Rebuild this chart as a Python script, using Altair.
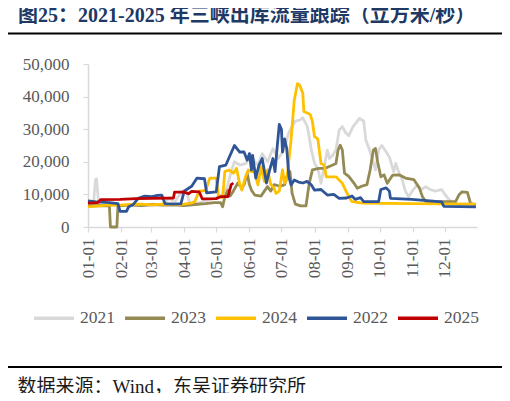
import json
import altair as alt
import pandas as pd

# ---------------- data ----------------
years = ["2021", "2023", "2024", "2022", "2025"]
colors = ["#D9D9D9", "#948A54", "#FFC000", "#2F5597", "#C00000"]

month_days = [0, 31, 59, 90, 120, 151, 181, 212, 243, 273, 304, 334]
month_labels = ["01-01", "02-01", "03-01", "04-01", "05-01", "06-01",
                "07-01", "08-01", "09-01", "10-01", "11-01", "12-01"]
y_ticks = [0, 10000, 20000, 30000, 40000, 50000]

# (day of year, outflow m3/s)
flow_2021 = [(0, 6500), (5, 6600), (7, 14500), (8, 14800), (10, 6800), (12, 6600),
             (20, 6800), (30, 6500), (40, 6700), (50, 6600), (60, 6800), (70, 7000),
             (77, 9000), (80, 7200), (88, 11000), (92, 11200), (95, 7200), (105, 7500),
             (112, 8200), (120, 9000), (126, 10000), (130, 12000), (134, 17000),
             (137, 20000), (142, 19000), (148, 19500), (152, 22500), (156, 20000),
             (159, 19000), (163, 22500), (168, 20000), (173, 24000), (178, 21000),
             (183, 23500), (188, 29000), (194, 32500), (198, 32800), (201, 33500),
             (205, 31000), (207, 27700), (209, 23600), (212, 19500), (215, 18000),
             (218, 13400), (221, 18500), (224, 23600), (226, 21000), (229, 22000),
             (232, 23600), (235, 29700), (238, 30800), (241, 29000), (244, 28000),
             (248, 30800), (251, 32000), (254, 33300), (258, 32500), (260, 26700),
             (263, 24000), (266, 21000), (269, 17500), (272, 23600), (275, 25000),
             (279, 23000), (282, 21500), (286, 17000), (288, 19500), (290, 17500),
             (294, 14500), (297, 11000), (300, 9300), (304, 11300), (308, 12800),
             (312, 11500), (316, 12400), (320, 11500), (325, 11000), (331, 11500),
             (334, 10000), (338, 8300), (345, 7000), (355, 7000), (363, 7000)]

flow_2022 = [(0, 8000), (8, 7700), (20, 7500), (28, 7200), (30, 4800), (36, 4800),
             (38, 6200), (42, 6800), (47, 8800), (53, 9500), (60, 9300), (65, 9700),
             (69, 9800), (72, 7200), (80, 7000), (87, 7200), (90, 11000), (97, 12500),
             (102, 15000), (109, 14800), (111, 10500), (120, 10800), (123, 18500),
             (129, 19000), (133, 22000), (137, 25000), (142, 23000), (146, 23000),
             (149, 20500), (151, 22500), (153, 17500), (154, 22000), (157, 15000),
             (160, 19000), (163, 21000), (167, 13500), (170, 17500), (173, 21000),
             (175, 17000), (177, 24500), (179, 31500), (181, 30000), (182, 23000),
             (184, 27000), (186, 24000), (188, 15400), (190, 12900), (193, 14400),
             (197, 13800), (201, 13500), (205, 14000), (209, 12900), (212, 11300),
             (218, 11500), (224, 9800), (230, 10000), (235, 8800), (242, 8900),
             (247, 9500), (250, 8500), (255, 9000), (258, 7800), (272, 7800),
             (274, 11500), (279, 12000), (282, 11000), (283, 8800), (303, 8500),
             (320, 8000), (331, 7700), (333, 6300), (363, 6200)]

flow_2023 = [(0, 6500), (10, 6600), (20, 6500), (21, 0), (27, 0), (28, 6500),
             (40, 6800), (50, 6600), (60, 6900), (70, 6700), (80, 6800), (90, 6600),
             (100, 6900), (110, 7200), (118, 7500), (124, 7500), (126, 6200),
             (128, 9300), (131, 11300), (133, 9500), (136, 11000), (140, 13400),
             (144, 12000), (146, 12900), (149, 16500), (151, 13000), (153, 11300),
             (156, 9800), (162, 9500), (165, 11000), (168, 12400), (171, 11000),
             (174, 13000), (180, 12500), (184, 13000), (187, 16500), (189, 17000),
             (191, 10300), (194, 7000), (199, 6500), (204, 6500), (207, 13400),
             (210, 17500), (216, 18000), (222, 18000), (229, 19000), (232, 19500),
             (234, 23600), (236, 25100), (238, 23600), (240, 16500), (244, 15500),
             (249, 13400), (252, 11900), (256, 12500), (261, 13000), (264, 17500),
             (267, 23600), (269, 24100), (271, 20000), (274, 15400), (277, 16000),
             (280, 13400), (285, 15900), (291, 16000), (297, 15000), (305, 14500),
             (310, 12000), (313, 9300), (316, 7800), (344, 7800), (347, 9800),
             (350, 10800), (355, 10600), (358, 7200), (363, 6800)]

flow_2024 = [(0, 6200), (10, 6500), (20, 6800), (30, 6700), (40, 6900), (50, 7000),
             (60, 6800), (70, 7000), (80, 6900), (90, 7000), (96, 7300), (100, 7800),
             (104, 11000), (110, 11200), (114, 15000), (120, 15000), (122, 9500),
             (126, 9000), (128, 17000), (132, 17500), (136, 16500), (139, 18000),
             (142, 13000), (144, 11300), (147, 15000), (150, 17500), (153, 17000),
             (156, 17000), (159, 12900), (162, 18500), (165, 14000), (168, 17500),
             (171, 13000), (174, 12000), (176, 10300), (179, 11000), (182, 17500),
             (184, 13500), (186, 14400), (190, 26700), (193, 38900), (196, 44000),
             (198, 43500), (201, 41000), (202, 35400), (208, 34500), (210, 32300),
             (212, 27700), (215, 27000), (216, 24600), (218, 19500), (221, 19000),
             (223, 15400), (232, 15400), (235, 14400), (238, 13400), (241, 11300),
             (244, 9300), (247, 7800), (257, 7300), (300, 7200), (363, 7000)]

flow_2025 = [(0, 7300), (9, 7500), (12, 8400), (30, 8500), (45, 8700), (60, 8800),
             (80, 8900), (81, 10700), (90, 10700), (94, 10200), (97, 10900),
             (104, 10800), (107, 8600), (120, 8700), (124, 9300), (131, 9300),
             (134, 13000), (136, 13500)]

series = {"2021": flow_2021, "2022": flow_2022, "2023": flow_2023,
          "2024": flow_2024, "2025": flow_2025}

title_text = "图25：2021-2025 年三峡出库流量跟踪（立方米/秒）"
source_text = "数据来源：Wind，东吴证券研究所"

# ---------------- build table ----------------
rows = []
for yr, pts in series.items():
    for d, v in pts:
        rows.append({"year": yr, "day": d, "flow": v})
df = pd.DataFrame(rows)

label_expr = "%s[indexof(%s, datum.value)]" % (json.dumps(month_labels), json.dumps(month_days))

SERIF = "Liberation Serif"
MIXED = "Liberation Serif, Noto Sans CJK SC"

x_enc = alt.X("day:Q", title=source_text,
              scale=alt.Scale(domain=[0, 364], nice=False, zero=False),
              axis=alt.Axis(values=month_days, labelExpr=label_expr, labelAngle=-90,
                            labelPadding=6,
                            titleX=-71, titleY=159, titleAlign="left",
                            titleBaseline="middle", titleAngle=0,
                            titleFont=MIXED, titleFontSize=19,
                            titleFontWeight="normal", titleColor="#1a1a1a"))
y_enc = alt.Y("flow:Q", title=None,
              scale=alt.Scale(domain=[0, 50000], nice=False),
              axis=alt.Axis(values=y_ticks, format=",.0f", labelPadding=14))
color_enc = alt.Color("year:N", title=None,
                      scale=alt.Scale(domain=years, range=colors),
                      legend=alt.Legend(orient="none", direction="horizontal",
                                        legendX=-56, legendY=232, padding=0,
                                        symbolType="stroke", symbolSize=1600,
                                        symbolStrokeWidth=3.5, labelOffset=4,
                                        columnPadding=3,
                                        labelFont=SERIF, labelFontSize=17.5,
                                        labelColor="#595959"))

layers = []
for yr in years:
    layers.append(
        alt.Chart(df).transform_filter(alt.datum.year == yr)
        .mark_line(strokeWidth=2.8, strokeJoin="round")
        .encode(x=x_enc, y=y_enc, color=color_enc, order="day:Q")
    )

one = pd.DataFrame({"t": [title_text]})
title_layer = alt.Chart(one).mark_text(
    align="left", baseline="middle", font=MIXED, fontSize=20, fontWeight="bold",
    color="#203864").encode(x=alt.value(-70), y=alt.value(-48), text="t:N")

r = pd.DataFrame({"a": [0]})
rule_top = alt.Chart(r).mark_rule(color="black", strokeWidth=2).encode(
    x=alt.value(-83), x2=alt.value(415), y=alt.value(-30.5))
rule_bot = alt.Chart(r).mark_rule(color="black", strokeWidth=2).encode(
    x=alt.value(-83), x2=alt.value(415), y=alt.value(303))

chart = alt.layer(*layers, title_layer, rule_top, rule_bot).properties(
    width=389, height=163,
    autosize=alt.AutoSizeParams(type="none"),
    padding={"left": 80, "top": 56, "right": 25, "bottom": 166},
    background="white",
).configure_view(stroke=None).configure_axis(
    grid=False, domainColor="#D9D9D9", domainWidth=1.5, tickColor="#D9D9D9",
    tickSize=5, tickWidth=1.2, labelColor="#595959", labelFont=SERIF,
    labelFontSize=17,
)

chart.save("out.html", embed_options={"renderer": "svg", "actions": False})
